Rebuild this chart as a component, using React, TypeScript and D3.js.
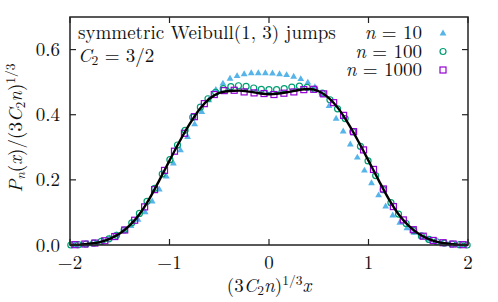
import React from 'react';
import * as d3 from 'd3';

// scaled axis ticks
const xTicks = [-2, -1, 0, 1, 2];
const xTickLabels = ['\u22122', '\u22121', '0', '1', '2'];
const yTicks = [0, 0.2, 0.4, 0.6];
const yTickLabels = ['0.0', '0.2', '0.4', '0.6'];

// limiting curve, sampled at -2.0 .. 2.0 (step 0.1)
const curveX = [-2.0, -1.9, -1.8, -1.7, -1.6, -1.5, -1.4, -1.3, -1.2, -1.1, -1.0, -0.9, -0.8, -0.7, -0.6, -0.5, -0.4, -0.3, -0.2, -0.1,
  0.0, 0.1, 0.2, 0.3, 0.4, 0.5, 0.6, 0.7, 0.8, 0.9, 1.0, 1.1, 1.2, 1.3, 1.4, 1.5, 1.6, 1.7, 1.8, 1.9, 2.0];
const curveY = [0.000, 0.001, 0.004, 0.009, 0.019, 0.035, 0.060, 0.095, 0.143, 0.200, 0.259, 0.317, 0.370, 0.416, 0.449, 0.467, 0.473, 0.474, 0.471, 0.466,
  0.463, 0.465, 0.470, 0.476, 0.479, 0.472, 0.452, 0.418, 0.371, 0.317, 0.259, 0.200, 0.143, 0.095, 0.060, 0.035, 0.019, 0.009, 0.004, 0.001, 0.000];

// histogram bins: first bin centre and bin width in scaled units
const n10Start = -1.956, n10Step = 0.0711;
const n10 = [0.001, 0.002, 0.004, 0.008, 0.014, 0.022, 0.032, 0.045, 0.060, 0.079, 0.102, 0.135, 0.172, 0.212, 0.252, 0.292, 0.333, 0.372, 0.410, 0.446, 0.478, 0.497, 0.512, 0.520, 0.526, 0.529, 0.529, 0.529,
  0.528, 0.526, 0.523, 0.518, 0.511, 0.500, 0.486, 0.463, 0.428, 0.389, 0.350, 0.310, 0.270, 0.230, 0.191, 0.154, 0.120, 0.092, 0.070, 0.053, 0.039, 0.028, 0.019, 0.012, 0.007, 0.004, 0.002, 0.001];

const n100Start = -1.992, n100Step = 0.0766;
const n100 = [0.000, 0.001, 0.003, 0.006, 0.011, 0.019, 0.030, 0.046, 0.068, 0.097, 0.134, 0.174, 0.218, 0.262, 0.307, 0.352, 0.392, 0.423, 0.449, 0.469, 0.480, 0.486, 0.489, 0.487, 0.482, 0.478, 0.477,
  0.477, 0.480, 0.485, 0.488, 0.484, 0.478, 0.466, 0.446, 0.418, 0.388, 0.348, 0.303, 0.258, 0.213, 0.170, 0.130, 0.095, 0.066, 0.044, 0.028, 0.017, 0.010, 0.006, 0.003, 0.001, 0.000];

const n1000Start = -1.95, n1000Step = 0.1;
const n1000 = [0.001, 0.003, 0.006, 0.013, 0.026, 0.046, 0.076, 0.117, 0.170, 0.229, 0.288, 0.343, 0.394, 0.434, 0.462, 0.474, 0.475, 0.470, 0.467, 0.465,
  0.462, 0.466, 0.470, 0.477, 0.478, 0.464, 0.437, 0.398, 0.348, 0.292, 0.232, 0.172, 0.118, 0.077, 0.047, 0.027, 0.014, 0.007, 0.003, 0.001];

const legendLabels = ['10', '100', '1000'];
const colors = { n10: '#56b4e9', n100: '#009e73', n1000: '#9400d3' };

const FS = 19;
const SUB = 13.5;
const txt: React.CSSProperties = { fontFamily: "'Latin Modern Roman'", fontSize: FS };

const W = 498, H = 302;
const margin = { left: 70, right: 30, top: 17, bottom: 57 };

const tri = d3.symbol(d3.symbolTriangle, 20)() as string;

const Marker: React.FC<{ kind: number; cx: number; cy: number }> = ({ kind, cx, cy }) => {
  if (kind === 0) return <path d={tri} transform={`translate(${cx},${cy + 0.5})`} fill={colors.n10} />;
  if (kind === 1) return <circle cx={cx} cy={cy} r={3} fill="none" stroke={colors.n100} strokeWidth={1.2} />;
  return <rect x={cx - 3} y={cy - 3} width={6} height={6} fill="none" stroke={colors.n1000} strokeWidth={1.2} />;
};

export default function App() {
  const x = d3.scaleLinear().domain([-2, 2]).range([margin.left, W - margin.right]);
  const y = d3.scaleLinear().domain([0, 0.7]).range([H - margin.bottom, margin.top]);
  const x0 = x.range()[0], x1 = x.range()[1];
  const y0 = y.range()[0], y1 = y.range()[1];

  const line = d3.line<number>()
    .x((_, i) => x(curveX[i]))
    .y(d => y(d))
    .curve(d3.curveMonotoneX);

  const series = [
    { vals: n10, start: n10Start, step: n10Step },
    { vals: n100, start: n100Start, step: n100Step },
    { vals: n1000, start: n1000Start, step: n1000Step },
  ];

  const tickLen = 6;
  const axisColor = '#222';

  return (
    <div style={{ position: 'absolute', left: 0, top: 0 }}>
      <svg width={W} height={H} viewBox={`0 0 ${W} ${H}`} style={{ display: 'block', background: '#fff' }} fill="#111">
        {/* data */}
        {series.map((s, k) => (
          <g key={k}>
            {s.vals.map((v, i) => (
              <Marker key={i} kind={k} cx={x(s.start + i * s.step)} cy={y(v)} />
            ))}
          </g>
        ))}
        <path d={line(curveY) as string} fill="none" stroke="#000" strokeWidth={2.4} />

        {/* ticks */}
        {xTicks.map((t, i) => (
          <g key={'xt' + i}>
            <line x1={x(t)} x2={x(t)} y1={y0} y2={y0 - tickLen} stroke={axisColor} strokeWidth={1.2} />
            <line x1={x(t)} x2={x(t)} y1={y1} y2={y1 + tickLen} stroke={axisColor} strokeWidth={1.2} />
            <text x={x(t)} y={269} textAnchor="middle" style={txt}>{xTickLabels[i]}</text>
          </g>
        ))}
        {yTicks.map((t, i) => (
          <g key={'yt' + i}>
            <line x1={x0} x2={x0 + tickLen} y1={y(t)} y2={y(t)} stroke={axisColor} strokeWidth={1.2} />
            <line x1={x1} x2={x1 - tickLen} y1={y(t)} y2={y(t)} stroke={axisColor} strokeWidth={1.2} />
            <text x={60} y={y(t) + 6.5} textAnchor="end" style={txt}>{yTickLabels[i]}</text>
          </g>
        ))}
        <rect x={x0} y={y1} width={x1 - x0} height={y0 - y1} fill="none" stroke={axisColor} strokeWidth={1.5} />

        {/* axis titles */}
        <text x={(x0 + x1) / 2} y={292} textAnchor="middle" style={txt}>
          (3<tspan fontStyle="italic">C</tspan><tspan fontSize={SUB} dy={3}>2</tspan>
          <tspan fontStyle="italic" dy={-3}>n</tspan>)<tspan fontSize={SUB} dy={-7}>1/3</tspan>
          <tspan fontStyle="italic" dy={7}>x</tspan>
        </text>
        <text transform={`translate(22,${(y0 + y1) / 2 - 3}) rotate(-90)`} textAnchor="middle" style={txt}>
          <tspan fontStyle="italic">P</tspan><tspan fontSize={SUB} fontStyle="italic" dy={3}>n</tspan>
          <tspan dy={-3}>(</tspan><tspan fontStyle="italic">x</tspan>)/(3<tspan fontStyle="italic">C</tspan>
          <tspan fontSize={SUB} dy={3}>2</tspan><tspan fontStyle="italic" dy={-3}>n</tspan>)
          <tspan fontSize={SUB} dy={-7}>1/3</tspan>
        </text>

        {/* key */}
        <text x={78} y={39} style={txt}>symmetric Weibull(1, 3) jumps</text>
        <text x={78} y={62} style={txt}>
          <tspan fontStyle="italic">C</tspan><tspan fontSize={SUB} dy={3}>2</tspan><tspan dy={-3}> = 3/2</tspan>
        </text>
        {legendLabels.map((lab, k) => (
          <g key={'lg' + k}>
            <text x={422} y={39 + k * 18.5} textAnchor="end" style={txt}>
              <tspan fontStyle="italic">n</tspan> = {lab}
            </text>
            <Marker kind={k} cx={443} cy={33 + k * 18.5} />
          </g>
        ))}
      </svg>
    </div>
  );
}
